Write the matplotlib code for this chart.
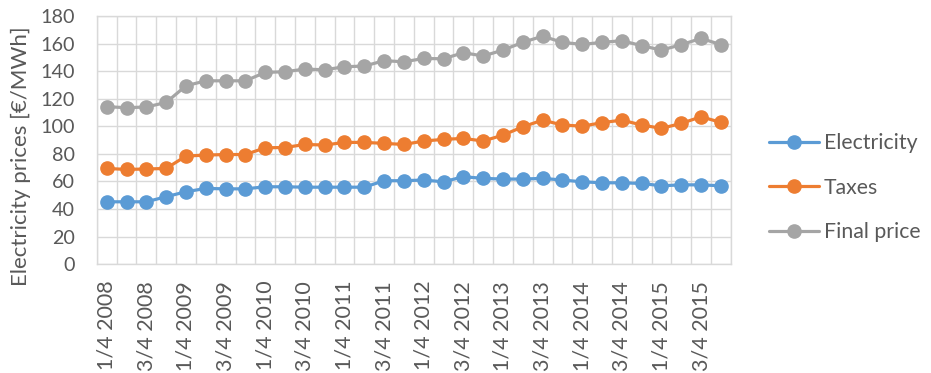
import matplotlib
matplotlib.use("Agg")
import matplotlib.pyplot as plt
import numpy as np

plt.rcParams['font.family'] = ['Lato', 'DejaVu Sans']

quarters = [f"{q}/4 {y}" for y in range(2008, 2016) for q in (1, 2, 3, 4)]

electricity = [45.2, 45.2, 45.2, 48.9, 52.5, 54.9, 54.6, 54.6, 56.1, 56.1, 55.8, 55.8,
               55.8, 55.8, 60.5, 60.5, 61.0, 59.7, 63.4, 62.2, 61.7, 61.7, 62.2, 61.0,
               59.7, 59.0, 59.0, 58.5, 56.8, 57.5, 57.5, 56.8]
taxes = [69.4, 68.7, 69.0, 69.4, 78.4, 79.1, 79.5, 79.5, 84.4, 84.6, 86.8, 86.4,
         88.3, 88.3, 87.6, 86.8, 89.3, 90.5, 91.2, 89.3, 93.6, 99.6, 104.5, 100.9,
         100.1, 102.6, 104.5, 100.9, 98.5, 102.1, 106.9, 102.8]
final_price = [114.2, 113.5, 114.0, 117.3, 129.4, 133.0, 133.0, 133.0, 139.1, 139.6, 141.5, 141.0,
               143.2, 143.7, 147.6, 146.8, 149.2, 149.0, 153.4, 151.0, 155.3, 160.9, 165.4, 160.9,
               159.4, 160.9, 162.1, 158.5, 155.3, 159.2, 163.8, 159.2]

series = [("Electricity", electricity, "#5B9BD5"),
          ("Taxes", taxes, "#ED7D31"),
          ("Final price", final_price, "#A5A5A5")]

text_col = "#595959"
grid_col = "#D9D9D9"

fig = plt.figure(figsize=(9.31, 3.73), dpi=100)
ax = fig.add_axes([0.104, 0.292, 0.681, 0.665])

x = np.arange(len(quarters))
for name, vals, col in series:
    ax.plot(x, vals, color=col, lw=2.3, marker='o', ms=9.5, label=name,
            solid_capstyle='round', zorder=3)

ax.set_xlim(-0.5, len(quarters) - 0.5)
ax.set_ylim(0, 180)
ax.set_yticks(np.arange(0, 181, 20))
ax.set_xticks(x[::2])
ax.set_xticklabels(quarters[::2], rotation=90)
for b in np.arange(-0.5, len(quarters), 1.0):
    ax.axvline(b, color=grid_col, lw=1.0, zorder=1)
ax.yaxis.grid(True, color=grid_col, lw=1.0, zorder=1)
ax.set_axisbelow(True)
for s in ax.spines.values():
    s.set_color(grid_col)
    s.set_linewidth(1.0)
ax.tick_params(axis='both', length=0, colors=text_col)
ax.tick_params(axis='x', labelsize=15.5, pad=12)
ax.tick_params(axis='y', labelsize=14.2, pad=16)
ax.set_ylabel("Electricity prices [€/MWh]", color=text_col, fontsize=16)
ax.yaxis.label.set_va('center')
ax.yaxis.set_label_coords(-0.12, 0.435)

leg = fig.legend(loc='center left', bbox_to_anchor=(0.805, 0.497), frameon=False,
                 fontsize=15.3, labelcolor=text_col, handlelength=2.35,
                 labelspacing=1.15, handletextpad=0.25)

fig.savefig("out.png", dpi=100)
